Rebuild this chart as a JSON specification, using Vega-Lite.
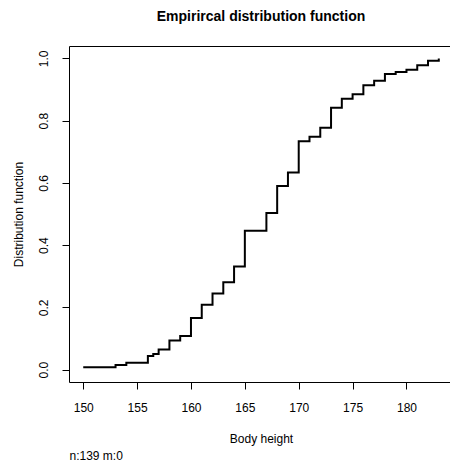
{
  "$schema": "https://vega.github.io/schema/vega-lite/v6.json",
  "width": 381,
  "height": 336,
  "autosize": {"type": "none"},
  "padding": {"left": 69, "top": 46, "right": 0, "bottom": 78},
  "background": "white",
  "title": {
    "text": "Empirircal distribution function",
    "font": "Liberation Sans",
    "fontSize": 14,
    "fontWeight": "bold",
    "color": "black",
    "anchor": "middle",
    "baseline": "alphabetic",
    "offset": 11,
    "dx": 1.5
  },
  "data": {
    "values": [
      {"height": 150, "F": 0.0072},
      {"height": 153, "F": 0.0144},
      {"height": 154, "F": 0.0216},
      {"height": 156, "F": 0.0432},
      {"height": 156.5, "F": 0.0504},
      {"height": 157, "F": 0.0647},
      {"height": 158, "F": 0.0935},
      {"height": 159, "F": 0.1079},
      {"height": 160, "F": 0.1655},
      {"height": 161, "F": 0.2086},
      {"height": 162, "F": 0.2446},
      {"height": 163, "F": 0.2806},
      {"height": 164, "F": 0.3309},
      {"height": 165, "F": 0.446},
      {"height": 167, "F": 0.5036},
      {"height": 168, "F": 0.5899},
      {"height": 169, "F": 0.6331},
      {"height": 170, "F": 0.7338},
      {"height": 171, "F": 0.7482},
      {"height": 172, "F": 0.777},
      {"height": 173, "F": 0.8417},
      {"height": 174, "F": 0.8705},
      {"height": 175, "F": 0.8849},
      {"height": 176, "F": 0.9137},
      {"height": 177, "F": 0.9281},
      {"height": 178, "F": 0.9496},
      {"height": 179, "F": 0.9568},
      {"height": 180, "F": 0.964},
      {"height": 181, "F": 0.9784},
      {"height": 182, "F": 0.9928},
      {"height": 183, "F": 1.0}
    ]
  },
  "layer": [
    {
      "mark": {"type": "line", "interpolate": "step-after", "color": "black", "strokeWidth": 2},
      "encoding": {
        "x": {
          "field": "height",
          "type": "quantitative",
          "scale": {"domain": [148.68, 184.04], "nice": false, "zero": false},
          "axis": {
            "orient": "bottom",
            "title": "Body height",
            "values": [150, 155, 160, 165, 170, 175, 180],
            "labelBaseline": "alphabetic",
            "labelPadding": 22,
            "titleBaseline": "alphabetic",
            "titleY": 60.5,
            "titleX": 192
          }
        },
        "y": {
          "field": "F",
          "type": "quantitative",
          "scale": {"domain": [-0.04, 1.04], "nice": false, "zero": false},
          "axis": {
            "title": "Distribution function",
            "values": [0, 0.2, 0.4, 0.6, 0.8, 1.0],
            "format": ".1f",
            "labelAngle": -90,
            "labelAlign": "center",
            "labelBaseline": "alphabetic",
            "labelPadding": 15,
            "titleBaseline": "alphabetic",
            "titleX": -47
          }
        }
      }
    },
    {
      "mark": {"type": "line", "opacity": 0},
      "encoding": {
        "x": {
          "field": "height",
          "type": "quantitative",
          "axis": {
            "orient": "bottom",
            "title": "n:139 m:0",
            "labels": false,
            "ticks": false,
            "domain": false,
            "titleAnchor": "start",
            "titleAlign": "left",
            "titleBaseline": "alphabetic",
            "titleX": 0,
            "titleY": 77
          }
        }
      }
    }
  ],
  "resolve": {"axis": {"x": "independent"}},
  "config": {
    "view": {"stroke": "black", "strokeWidth": 1},
    "axis": {
      "grid": false,
      "domain": false,
      "tickColor": "black",
      "tickSize": 7,
      "tickWidth": 1,
      "labelFont": "Liberation Sans",
      "labelFontSize": 12,
      "labelColor": "black",
      "titleFont": "Liberation Sans",
      "titleFontSize": 12,
      "titleFontWeight": "normal",
      "titleColor": "black",
      "labelOverlap": false,
      "labelFlush": false
    }
  }
}
